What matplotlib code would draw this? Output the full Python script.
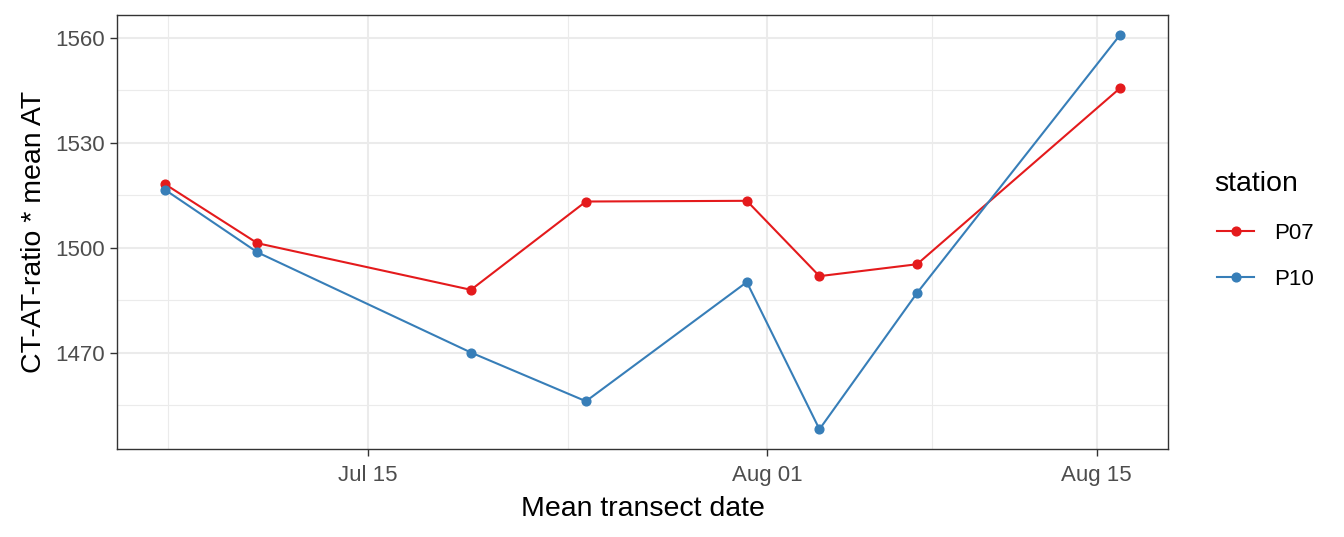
import matplotlib
matplotlib.use("Agg")
import matplotlib.pyplot as plt
import matplotlib.dates as mdates
from matplotlib.lines import Line2D
import numpy as np
import datetime as dt

plt.rcParams['font.family'] = ['Liberation Sans', 'DejaVu Sans']

# days offset from Jul 15 (fractional mean transect dates)
day_offsets = [-8.63, -4.69, 4.39, 9.28, 16.12, 19.21, 23.36, 32.0]
p07 = [1518.2, 1501.3, 1488.0, 1513.2, 1513.4, 1491.9, 1495.3, 1545.6]
p10 = [1516.6, 1498.7, 1470.1, 1456.2, 1490.2, 1448.2, 1487.1, 1560.8]
stations = ["P07", "P10"]
colors = ["#E41A1C", "#377EB8"]
x_major = ["2023-07-15", "2023-08-01", "2023-08-15"]
x_major_labels = ["Jul 15", "Aug 01", "Aug 15"]
x_minor = ["2023-07-06 12:00", "2023-07-23 12:00", "2023-08-08"]
y_major = [1470, 1500, 1530, 1560]
y_minor = [1455, 1485, 1515, 1545]

base = dt.datetime(2023, 7, 15)
dates = [base + dt.timedelta(days=d) for d in day_offsets]
xnum = mdates.date2num(dates)

W, H = 1344, 537
fig = plt.figure(figsize=(W/100, H/100), dpi=100)
ax = fig.add_axes([117/W, 1-449/H, (1168-117)/W, (449-15)/H])

for vals, name, c in zip([p07, p10], stations, colors):
    ax.plot(xnum, vals, color=c, lw=1.5, marker='o', ms=6.3, mec=c, mfc=c, zorder=3)

# expansion 5%
xr = xnum.max() - xnum.min()
ax.set_xlim(xnum.min() - 0.05*xr, xnum.max() + 0.05*xr)
allv = p07 + p10
yr = max(allv) - min(allv)
ax.set_ylim(min(allv) - 0.05*yr, max(allv) + 0.05*yr)

xmaj = mdates.date2num([dt.datetime.fromisoformat(s) for s in x_major])
xmin_ = mdates.date2num([dt.datetime.fromisoformat(s) for s in x_minor])
ax.set_xticks(xmaj)
ax.set_xticklabels(x_major_labels)
ax.set_xticks(xmin_, minor=True)
ax.set_yticks(y_major)
ax.set_yticks(y_minor, minor=True)

ax.grid(which='major', color='#EBEBEB', lw=1.5, zorder=0)
ax.grid(which='minor', color='#EBEBEB', lw=0.8, zorder=0)
ax.set_axisbelow(True)
for s in ax.spines.values():
    s.set_color('#333333')
    s.set_linewidth(1.0)
ax.tick_params(which='major', length=5, width=1.0, color='#333333',
               labelsize=16, labelcolor='#4D4D4D', pad=4)
ax.tick_params(axis='x', which='major', pad=6.5)
ax.tick_params(which='minor', length=0)

ax.set_xlabel("Mean transect date", fontsize=20.5, color='black', labelpad=7)
ax.set_ylabel("CT-AT-ratio * mean AT", fontsize=20.5, color='black', labelpad=6)

# legend drawn manually in figure pixel coordinates
fig.text(1214/W, 1-191/H, "station", fontsize=20.5, ha='left', va='baseline')
key_y = [231, 277]
for c, name, ky in zip(colors, stations, key_y):
    fig.add_artist(Line2D([1217/W, 1254/W], [1-ky/H, 1-ky/H], color=c, lw=1.5,
                          transform=fig.transFigure))
    fig.add_artist(Line2D([1235.5/W], [1-ky/H], color=c, marker='o', ms=6.3,
                          transform=fig.transFigure))
    fig.text(1274/W, 1-ky/H, name, fontsize=16, ha='left', va='center_baseline')

fig.savefig("out.png", dpi=100)
